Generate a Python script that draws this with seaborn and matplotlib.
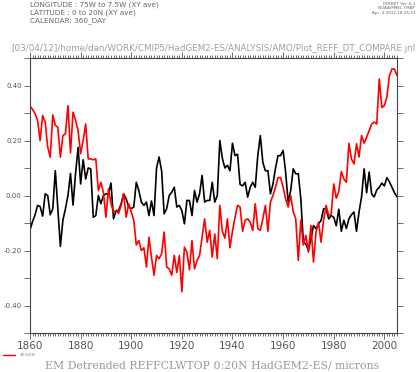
import numpy as np
import pandas as pd
import seaborn as sns
import matplotlib.pyplot as plt
from matplotlib.ticker import MultipleLocator, FormatStrFormatter

years = list(range(1860, 2006))

# 0:20N (black)
black = [-0.125, -0.095, -0.07, -0.036, -0.04, -0.075, 0.006, 0.0, -0.07, -0.048,
         0.09, -0.05, -0.185, -0.09, -0.048, 0.0, 0.08, -0.035, 0.08, 0.175,
         0.042, 0.13, 0.06, 0.1, 0.097, -0.079, -0.073, 0.0, -0.03, 0.0,
         0.006, 0.006, 0.045, -0.085, -0.055, -0.055, -0.03, 0.006, -0.012, -0.042,
         -0.048, -0.042, 0.048, 0.018, -0.024, -0.036, -0.024, -0.073, -0.02, -0.073,
         0.1, 0.14, 0.09, -0.067, -0.048, 0.0, 0.012, 0.03, -0.042, -0.036,
         -0.055, -0.103, -0.018, -0.018, -0.073, 0.018, -0.024, 0.006, 0.073, -0.024,
         -0.018, -0.018, 0.048, -0.024, 0.0, 0.2, 0.135, 0.1, 0.11, 0.09,
         0.19, 0.145, 0.15, 0.04, 0.035, 0.048, -0.006, 0.03, 0.048, 0.03,
         0.145, 0.218, 0.12, 0.09, 0.09, 0.006, 0.042, 0.1, 0.145, 0.145,
         0.164, 0.085, -0.024, 0.018, 0.097, 0.079, 0.079, -0.012, -0.17, -0.176,
         -0.2, -0.158, -0.109, -0.121, -0.103, -0.091, -0.048, -0.048, -0.085, -0.073,
         -0.079, -0.11, -0.05, -0.13, -0.09, -0.12, -0.085, -0.07, -0.06, -0.13,
         -0.06, -0.005, 0.097, 0.01, 0.085, 0.005, -0.005, 0.02, 0.03, 0.045,
         0.035, 0.065, 0.05, 0.03, 0.01, -0.005]

# 40:60N (red)
red = [0.325, 0.313, 0.297, 0.273, 0.2, 0.291, 0.267, 0.176, 0.139, 0.293,
       0.255, 0.248, 0.139, 0.218, 0.224, 0.327, 0.155, 0.303, 0.273, 0.236,
       0.152, 0.2, 0.26, 0.133, 0.133, 0.13, 0.133, 0.018, 0.048, 0.012,
       -0.079, 0.024, -0.03, -0.06, -0.055, -0.065, -0.036, 0.006, -0.079, -0.03,
       -0.06, -0.09, -0.18, -0.164, -0.2, -0.19, -0.26, -0.152, -0.224, -0.29,
       -0.218, -0.23, -0.212, -0.133, -0.26, -0.267, -0.29, -0.218, -0.28, -0.218,
       -0.35, -0.188, -0.206, -0.27, -0.164, -0.267, -0.236, -0.218, -0.152, -0.085,
       -0.17, -0.127, -0.224, -0.14, -0.23, -0.036, -0.13, -0.155, -0.085, -0.19,
       -0.13, -0.08, -0.036, -0.042, -0.13, -0.09, -0.085, -0.097, -0.127, -0.03,
       -0.12, -0.127, -0.085, -0.036, -0.13, -0.024, 0.0, 0.03, 0.065, 0.065,
       0.03, -0.012, -0.042, 0.0, -0.06, -0.085, -0.236, -0.09, -0.18, -0.145,
       -0.206, -0.109, -0.242, -0.133, -0.097, -0.17, -0.09, -0.036, -0.073, -0.067,
       0.042, -0.01, 0.015, 0.087, 0.06, 0.048, 0.19, 0.133, 0.115, 0.188,
       0.14, 0.218, 0.19, 0.212, 0.236, 0.26, 0.267, 0.26, 0.424, 0.32,
       0.327, 0.358, 0.436, 0.46, 0.46, 0.436]

df = pd.DataFrame({"year": years, "black": black, "red": red})

sns.set_style("white")
plt.rcParams["axes.unicode_minus"] = False
plt.rcParams["font.family"] = ["DejaVu Sans"]

fig = plt.figure(figsize=(4.18, 3.72), dpi=100)
ax = fig.add_axes([30 / 418, 39 / 372, 367 / 418, 275 / 372])

sns.lineplot(data=df, x="year", y="black", color="black", linewidth=1.2, ax=ax)
sns.lineplot(data=df, x="year", y="red", color="#ff0000", linewidth=1.2, ax=ax)

ax.set_xlim(1860, 2005)
ax.set_ylim(-0.5, 0.5)
ax.set_xlabel("")
ax.set_ylabel("")

ax.xaxis.set_major_locator(MultipleLocator(20))
ax.xaxis.set_minor_locator(MultipleLocator(1))
ax.yaxis.set_major_locator(MultipleLocator(0.2))
ax.yaxis.set_minor_locator(MultipleLocator(0.1))
ax.yaxis.set_major_formatter(FormatStrFormatter("%.2f"))

ax.tick_params(axis="x", which="both", top=True, bottom=True, direction="out",
               colors="#555555", labelcolor="#555555", labelsize=7.5, width=0.6, pad=2)
ax.tick_params(axis="x", which="major", length=4)
ax.tick_params(axis="x", which="minor", length=2.2)
ax.tick_params(axis="y", which="both", left=True, right=True, direction="out",
               colors="#555555", labelcolor="#555555", labelsize=5, width=0.6, pad=2)
ax.tick_params(axis="y", which="major", length=4)
ax.tick_params(axis="y", which="minor", length=4)
for side in ax.spines.values():
    side.set_color("#444444")
    side.set_linewidth(0.8)

ax.set_title("[03/04/12]/home/dan/WORK/CMIP5/HadGEM2-ES/ANALYSIS/AMO/Plot_REFF_DT_COMPARE.jnl",
             fontsize=6.3, color="#a0a0a0", pad=5)

fig.text(30 / 418, 1 - 13 / 372, "LONGITUDE : 75W to 7.5W (XY ave)\nLATITUDE : 0 to 20N (XY ave)\nCALENDAR: 360_DAY",
         fontsize=5.2, color="#666666", va="center", linespacing=1.25)
fig.text(415 / 418, 1 - 2 / 372, "FERRET Ver. 6.1\nNOAA/PMEL TMAP\nApr  3 2012 18:25:21",
         fontsize=3, color="#666666", ha="right", va="top", linespacing=1.1)

fig.lines.append(plt.Line2D([3 / 418, 15 / 418], [1 - 355 / 372, 1 - 355 / 372],
                            transform=fig.transFigure, color="#ff0000", linewidth=1))
fig.text(20 / 418, 1 - 355 / 372, "40:60N", fontsize=3.2, color="#888888", va="center")
fig.text(212 / 418, 1 - 365 / 372, "EM Detrended REFFCLWTOP 0:20N HadGEM2-ES/ microns",
         fontsize=7.8, color="#999999", ha="center", va="center", family="DejaVu Serif")

fig.savefig("out.png", dpi=100)
